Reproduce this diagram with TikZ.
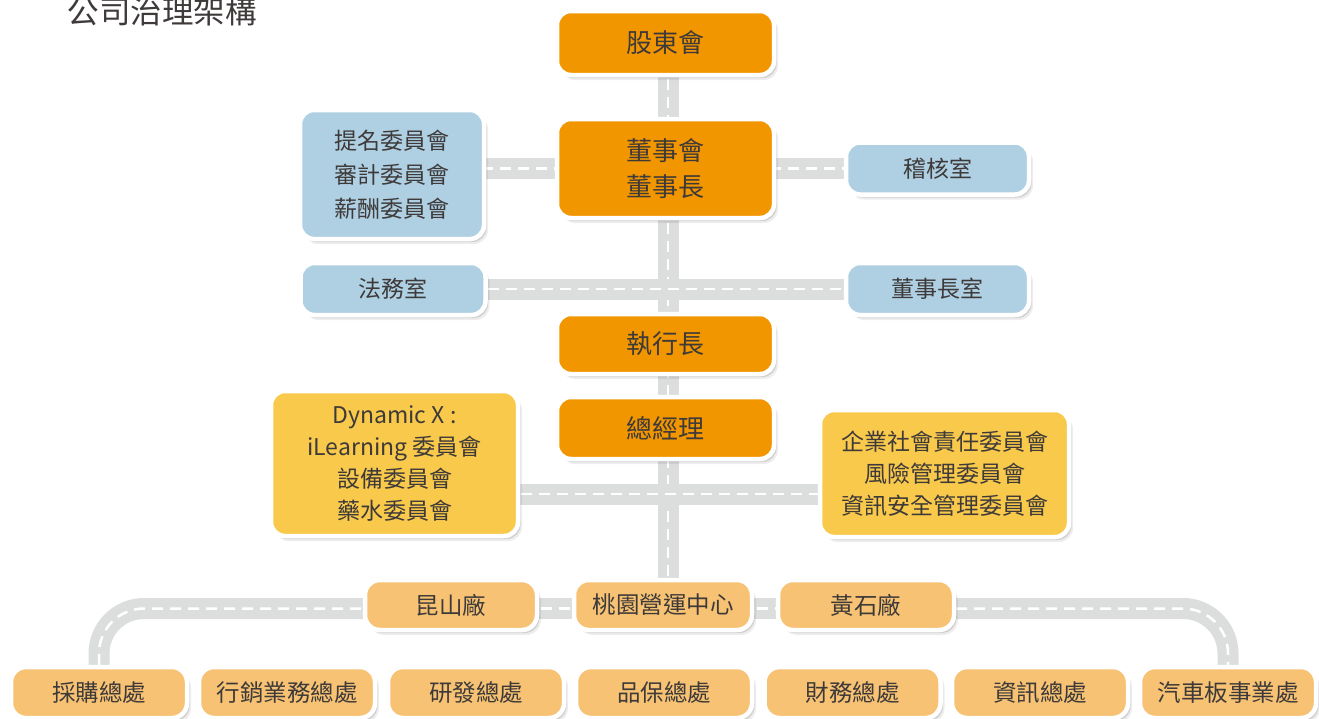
\documentclass[tikz,border=0pt]{standalone}
\usepackage{fontspec}
\setmainfont{Noto Sans CJK TC}
\usetikzlibrary{shadows}
\definecolor{dorange}{HTML}{F29600}
\definecolor{lblue}{HTML}{AFD0E3}
\definecolor{yel}{HTML}{F9C94B}
\definecolor{lorange}{HTML}{F7C273}
\definecolor{roadgray}{HTML}{DCDDDD}
\definecolor{txt}{HTML}{3E3A39}
\pgfdeclarelayer{bg}
\pgfsetlayers{bg,main}
\tikzset{
 box/.style={draw=white, line width=4.5pt, rounded corners=14pt, text=txt, align=center, inner sep=0pt,
   drop shadow={shadow xshift=4pt, shadow yshift=-5pt, fill=black, opacity=0.07},
   drop shadow={shadow xshift=2.5pt, shadow yshift=-3pt, fill=black, opacity=0.12}},
 topbox/.style={box, fill=dorange, font=\fontsize{26}{36}\selectfont},
 bluebox/.style={box, fill=lblue, font=\fontsize{23}{34}\selectfont},
 yelbox/.style={box, fill=yel, font=\fontsize{23}{32}\selectfont},
 unitbox/.style={box, fill=lorange, font=\fontsize{23.5}{28}\selectfont, rounded corners=15pt},
 road/.style={line width=21pt, draw=roadgray},
 lane/.style={line width=2.5pt, draw=white, dash pattern=on 11pt off 7pt},
}
\newcommand\myroad[1]{\draw[road] #1; \draw[lane] #1;}
\begin{document}
\begin{tikzpicture}[x=1pt,y=-1pt]
\useasboundingbox (0,0) rectangle (1319,718);
\node[anchor=west, font=\fontsize{31.5}{32}\selectfont, text=txt] (title) at (64,12) {公司治理架構};

\node[topbox, minimum width=217pt, minimum height=64pt] (sh) at (665.5,43) {股東會};
\node[topbox, minimum width=217pt, minimum height=99pt] (bod) at (665.5,168.5) {董事會\\董事長};
\node[bluebox, minimum width=184pt, minimum height=129pt] (nom) at (392,174.5) {提名委員會\\審計委員會\\薪酬委員會};
\node[bluebox, minimum width=183pt, minimum height=52pt] (aud) at (937.5,168.5) {稽核室};
\node[bluebox, minimum width=185pt, minimum height=52pt] (leg) at (393,289) {法務室};
\node[bluebox, minimum width=183pt, minimum height=52pt] (cho) at (937.5,289) {董事長室};
\node[topbox, minimum width=217pt, minimum height=60pt] (ceo) at (665.5,344) {執行長};
\node[topbox, minimum width=217pt, minimum height=62pt] (gm) at (665.5,428) {總經理};
\node[yelbox, minimum width=247pt, minimum height=145pt] (dyn) at (394.5,463.5) {Dynamic X :\\iLearning 委員會\\設備委員會\\藥水委員會};
\node[yelbox, minimum width=249pt, minimum height=127pt] (csr) at (944.5,473.5) {企業社會責任委員會\\風險管理委員會\\資訊安全管理委員會};

\node[unitbox, minimum width=172pt, minimum height=50pt] (ks) at (451,605) {昆山廠};
\node[unitbox, minimum width=178pt, minimum height=50pt] (ty) at (663,605) {桃園營運中心};
\node[unitbox, minimum width=176pt, minimum height=50pt] (hs) at (866,605) {黃石廠};

\node[unitbox, minimum width=176pt, minimum height=51pt] (b1) at (99,692.5) {採購總處};
\node[unitbox, minimum width=176pt, minimum height=51pt] (b2) at (287,692.5) {行銷業務總處};
\node[unitbox, minimum width=176pt, minimum height=51pt] (b3) at (476,692.5) {研發總處};
\node[unitbox, minimum width=176pt, minimum height=51pt] (b4) at (664,692.5) {品保總處};
\node[unitbox, minimum width=176pt, minimum height=51pt] (b5) at (852.5,692.5) {財務總處};
\node[unitbox, minimum width=176pt, minimum height=51pt] (b6) at (1040,692.5) {資訊總處};
\node[unitbox, minimum width=176pt, minimum height=51pt] (b7) at (1228,692.5) {汽車板事業處};

\coordinate (spine) at (668,0);
\coordinate (mid) at (668,494);
\coordinate (low) at (668,608.5);

\begin{pgfonlayer}{bg}
\fill[white] (0,0) rectangle (1319,718);
\myroad{(spine |- sh.center) -- (spine |- ty.center)}
\myroad{(nom |- aud) -- (aud)}
\myroad{(leg) -- (cho)}
\myroad{(dyn |- mid) -- (csr |- mid)}
\myroad{(ks |- low) -- (hs |- low)}
\myroad{[rounded corners=45pt] (ks |- low) -- (b1 |- low) -- (b1.center)}
\myroad{[rounded corners=45pt] (hs |- low) -- (b7 |- low) -- (b7.center)}
\end{pgfonlayer}
\end{tikzpicture}
\end{document}
